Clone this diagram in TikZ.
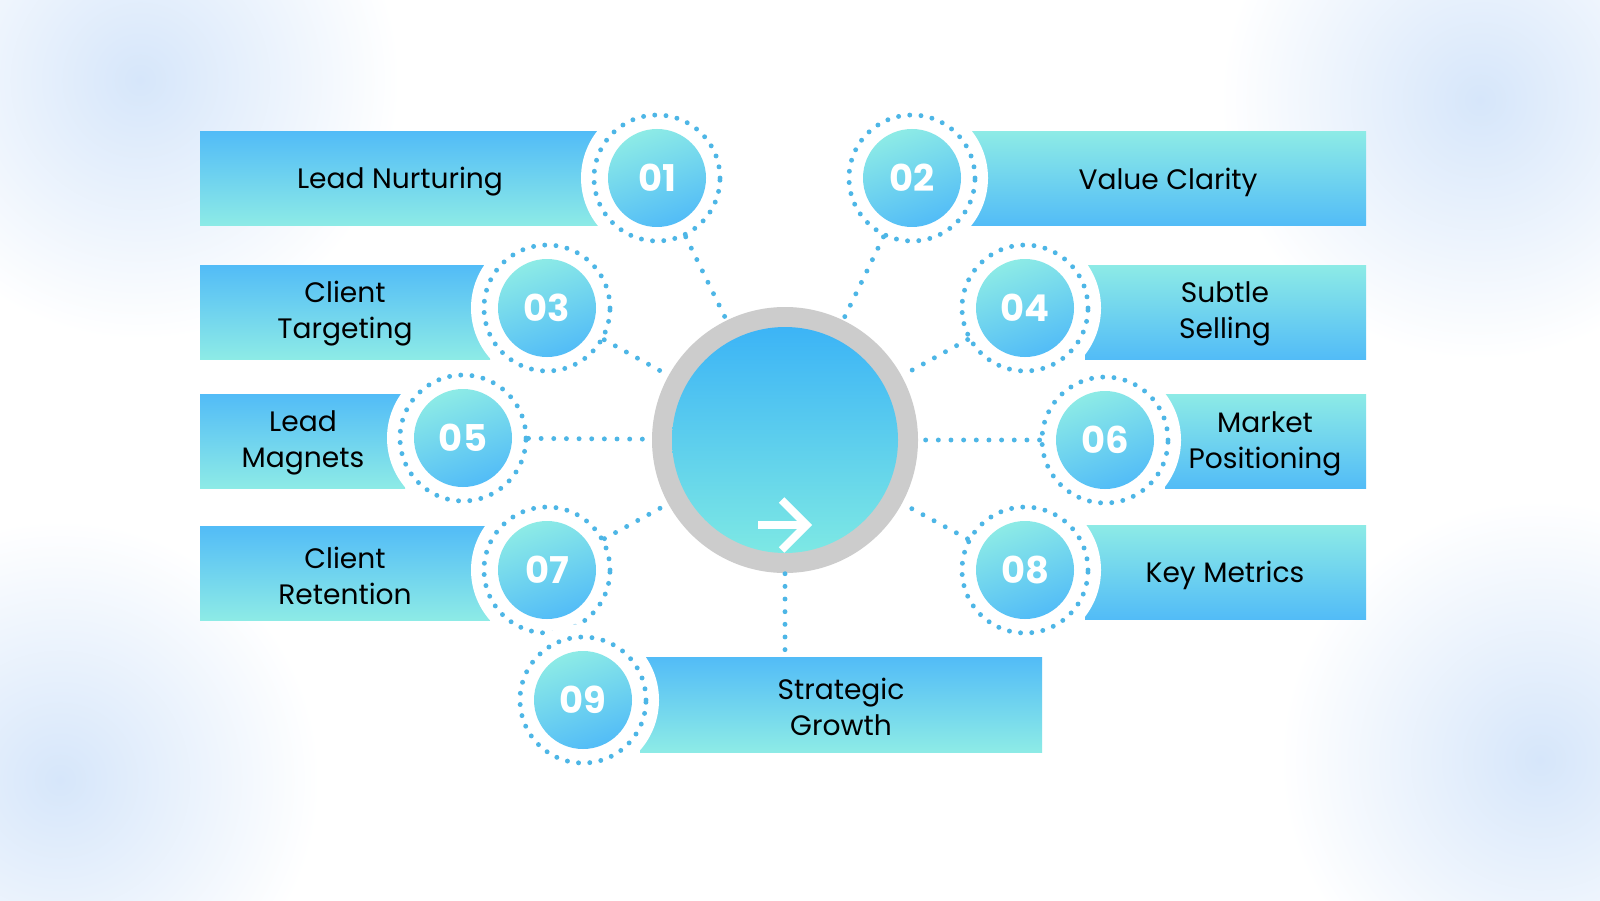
\documentclass[tikz,border=0pt]{standalone}
\usepackage{fontspec}
\setmainfont{Poppins}
\usetikzlibrary{arrows.meta}
\definecolor{cblue}{HTML}{52BCF7}
\definecolor{ccyan}{HTML}{8DEBE6}
\definecolor{dotc}{HTML}{4DB6E6}
\definecolor{glow}{HTML}{D6E6FA}
\definecolor{ctop}{HTML}{3CB4F6}
\definecolor{cbot}{HTML}{7DE8E4}
\tikzset{
 barL/.style={top color=cblue,bottom color=ccyan,draw=none},
 barR/.style={top color=ccyan,bottom color=cblue,draw=none},
 lbl/.style={font=\fontsize{8}{10.2}\selectfont,align=center,text=black},
 ringw/.style={circle,fill=white,minimum size=1.52cm,inner sep=0},
 ringd/.style={circle,draw=dotc,line width=1.4pt,dash pattern=on 0pt off 3.2pt,line cap=round,minimum size=1.26cm,inner sep=0},
 num/.style={circle,top color=ccyan,bottom color=cblue,shading angle=20,minimum size=0.98cm,inner sep=0,text=white,font=\fontsize{10.5}{12}\selectfont\bfseries},
 conn/.style={draw=dotc,line width=1.4pt,dash pattern=on 0pt off 3.6pt,line cap=round}
}
\begin{document}
\begin{tikzpicture}
\useasboundingbox (0,0) rectangle (16,9);
\fill[white] (0,0) rectangle (16,9);
\begin{scope}
\clip (0,0) rectangle (16,9);
\shade[inner color=glow,outer color=white,draw=none] (1.4,8.2) circle (2.6);
\shade[inner color=glow,outer color=white,draw=none] (14.8,8.0) circle (2.6);
\shade[inner color=glow,outer color=white,draw=none] (0.6,1.2) circle (2.6);
\shade[inner color=glow,outer color=white,draw=none] (15.4,1.4) circle (2.6);
\end{scope}
% bars
\shade[barL] (2.0,6.74) rectangle (6.0,7.68);
\shade[barR] (9.7,6.74) rectangle (13.66,7.68);
\shade[barL] (2.0,5.41) rectangle (4.9,6.35);
\shade[barR] (10.85,5.41) rectangle (13.66,6.35);
\shade[barL] (2.0,4.12) rectangle (4.05,5.06);
\shade[barR] (11.65,4.12) rectangle (13.66,5.06);
\shade[barL] (2.0,2.8) rectangle (4.9,3.74);
\shade[barR] (10.85,2.81) rectangle (13.66,3.75);
\shade[barL] (6.4,1.48) rectangle (10.42,2.43);
\coordinate (b9) at (7.85,2.43);
% labels
\node[lbl] (t1) at (4.0,7.18) {Lead Nurturing};
\node[lbl] (t2) at (11.68,7.18) {Value Clarity};
\node[lbl] (t3) at (3.45,5.86) {Client\\Targeting};
\node[lbl] (t4) at (12.25,5.86) {Subtle\\Selling};
\node[lbl] (t5) at (3.03,4.57) {Lead\\Magnets};
\node[lbl] (t6) at (12.65,4.56) {Market\\Positioning};
\node[lbl] (t7) at (3.45,3.24) {Client\\Retention};
\node[lbl] (t8) at (12.25,3.25) {Key Metrics};
\node[lbl] (t9) at (8.41,1.93) {Strategic\\Growth};
% circles
\foreach \n/\x/\y in {1/6.57/7.22,2/9.12/7.22,3/5.47/5.92,4/10.25/5.92,5/4.63/4.62,6/11.05/4.6,7/5.47/3.3,8/10.25/3.3,9/5.83/2.0}{
 \node[ringw] at (\x,\y) {};
 \node[ringd] (r\n) at (\x,\y) {};
 \node[num] (n\n) at (\x,\y) {0\n};
}
% center
\node[circle,fill=black!20,minimum size=2.66cm,inner sep=0] (c) at (7.85,4.6) {};
\node[circle,top color=ctop,bottom color=cbot,minimum size=2.26cm,inner sep=0] (ci) at (7.85,4.6) {};
\coordinate (a1) at (7.58,3.75);
\coordinate (a2) at (8.12,3.75);
\draw[white,line width=2.2pt,-{Straight Barb[length=2.5mm,width=5mm]}] (a1) -- (a2);
% connectors
\foreach \n in {1,...,8}{\draw[conn] (r\n) -- (c);}
\draw[conn] (c) -- (b9);
\end{tikzpicture}
\end{document}
